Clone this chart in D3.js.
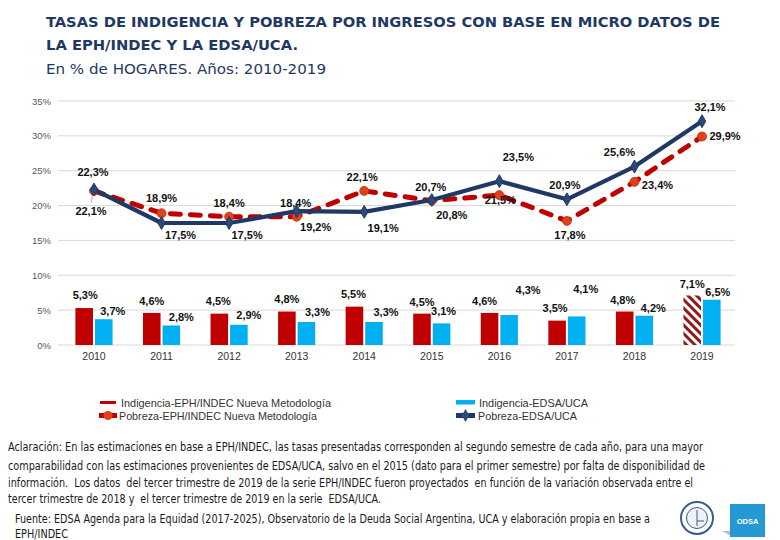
<!DOCTYPE html>
<html>
<head>
<meta charset="utf-8">
<script src="https://cdn.jsdelivr.net/npm/d3@7"></script>
<style>
  html, body { margin: 0; padding: 0; background: #fff; }
  svg { display: block; }
</style>
</head>
<body>
<svg id="chart" width="780" height="540"></svg>
<script>
// ---------------- DATA ----------------
const years = ["2010","2011","2012","2013","2014","2015","2016","2017","2018","2019"];
const indigenciaEPH  = [5.3, 4.6, 4.5, 4.8, 5.5, 4.5, 4.6, 3.5, 4.8, 7.1];
const indigenciaEDSA = [3.7, 2.8, 2.9, 3.3, 3.3, 3.1, 4.3, 4.1, 4.2, 6.5];
const pobrezaEPH     = [22.1, 18.9, 18.4, 18.4, 22.1, 20.7, 21.5, 17.8, 23.4, 29.9];
const pobrezaEDSA    = [22.3, 17.5, 17.5, 19.2, 19.1, 20.8, 23.5, 20.9, 25.6, 32.1];
const yTicks = [0, 5, 10, 15, 20, 25, 30, 35];
const seriesNames = [
  "Indigencia-EPH/INDEC Nueva Metodología",
  "Pobreza-EPH/INDEC Nueva Metodología",
  "Indigencia-EDSA/UCA",
  "Pobreza-EDSA/UCA"
];
const projectedYear = "2019";

// label offsets (layout only) [dx, dy] from the mark
const offPobEDSA = [[-1,-18],[19,12],[18,12],[19,16],[19,16],[20,15],[19,-24],[-2,-14],[-15,-15],[8,-14]];
const offPobEPH  = [[-3,20],[0,-15],[0,-14],[-1,-14],[-2,-14],[-1,-14],[1,5],[3,14],[23,3],[23,-1]];
const offIndEPH  = [[1,-13],[0,-12],[-1,-13],[0,-13],[-1,-13],[0,-12],[-5,-12],[-2,-13],[-2,-12],[0,-12]];
const offIndEDSA = [[9,-8],[10,-8],[10,-10],[11,-10],[12,-10],[2,-12],[19,-25],[9,-27],[9,-8],[6,-8]];

const fmt = v => d3.format(".1f")(v).replace(".", ",") + "%";

// ---------------- COLORS ----------------
const cRed = "#C00000", cBlue = "#00B0F0", cNavy = "#203864", cRedMarker = "#E0401C";
const titleColor = "#1F3864";

const svg = d3.select("#chart");
svg.append("rect").attr("width",780).attr("height",540).attr("fill","#fff");

// hatch pattern
const defs = svg.append("defs");
const pat = defs.append("pattern").attr("id","hatch").attr("patternUnits","userSpaceOnUse")
  .attr("width",6).attr("height",6).attr("patternTransform","rotate(-45)");
pat.append("rect").attr("width",6).attr("height",6).attr("fill","#fff");
pat.append("rect").attr("width",3).attr("height",6).attr("fill","#8E1B1E");

// ---------------- TITLE ----------------
svg.append("text").attr("x",46).attr("y",27)
  .attr("font-family","'DejaVu Sans Condensed','DejaVu Sans',sans-serif").attr("font-weight","bold")
  .attr("font-size",14.5).attr("fill",titleColor)
  .attr("textLength",674).attr("lengthAdjust","spacingAndGlyphs")
  .text("TASAS DE INDIGENCIA Y POBREZA POR INGRESOS CON BASE EN MICRO DATOS DE");
svg.append("text").attr("x",46).attr("y",50)
  .attr("font-family","'DejaVu Sans Condensed','DejaVu Sans',sans-serif").attr("font-weight","bold")
  .attr("font-size",14.5).attr("fill",titleColor)
  .attr("textLength",252).attr("lengthAdjust","spacingAndGlyphs")
  .text("LA EPH/INDEC Y LA EDSA/UCA.");
svg.append("text").attr("x",46).attr("y",74)
  .attr("font-family","'DejaVu Sans Condensed','DejaVu Sans',sans-serif")
  .attr("font-size",14.5).attr("fill",titleColor)
  .attr("textLength",280).attr("lengthAdjust","spacingAndGlyphs")
  .text("En % de HOGARES. Años: 2010-2019");

// ---------------- SCALES ----------------
const x = d3.scaleBand().domain(years).range([60.2, 735.8]);
const y = d3.scaleLinear().domain([0, 35]).range([345, 101]);
const cx = yr => x(yr) + x.bandwidth() / 2;
const barW = x.bandwidth() * 0.26;

// grid
svg.append("g").selectAll("line").data(yTicks).join("line")
  .attr("x1",58).attr("x2",735).attr("y1",d=>y(d)).attr("y2",d=>y(d))
  .attr("stroke","#D9D9D9").attr("stroke-width",1);

// y axis
const yAx = svg.append("g").attr("transform","translate(58,0)")
  .call(d3.axisLeft(y).tickValues(yTicks).tickFormat(d => d + "%").tickSize(0).tickPadding(7));
yAx.select(".domain").remove();
yAx.selectAll("text").attr("font-family","'Liberation Sans',Arial,sans-serif").attr("font-size",9.5).attr("fill","#595959");

// x axis
const xAx = svg.append("g").attr("transform","translate(0,345)")
  .call(d3.axisBottom(x).tickSize(0).tickPadding(8));
xAx.select(".domain").remove();
xAx.selectAll("text").attr("font-family","'Liberation Sans',Arial,sans-serif").attr("font-size",10.5).attr("fill","#333");

// ---------------- BARS ----------------
const bars = svg.append("g");
bars.selectAll("rect.eph").data(years).join("rect").attr("class","eph")
  .attr("x", d => cx(d) - barW - 1).attr("width", barW)
  .attr("y", (d,i) => y(indigenciaEPH[i])).attr("height", (d,i) => y(0) - y(indigenciaEPH[i]))
  .attr("fill", d => d === projectedYear ? "url(#hatch)" : cRed);
bars.selectAll("rect.edsa").data(years).join("rect").attr("class","edsa")
  .attr("x", d => cx(d) + 1).attr("width", barW)
  .attr("y", (d,i) => y(indigenciaEDSA[i])).attr("height", (d,i) => y(0) - y(indigenciaEDSA[i]))
  .attr("fill", cBlue);

const labelFont = "'Liberation Sans',Arial,sans-serif";
function addLabels(vals, offs, centerFn) {
  svg.append("g").selectAll("text").data(years).join("text")
    .attr("x", (d,i) => centerFn(d) + offs[i][0])
    .attr("y", (d,i) => y(vals[i]) + offs[i][1])
    .attr("text-anchor","middle").attr("dominant-baseline","central")
    .attr("font-family",labelFont).attr("font-weight","bold").attr("font-size",11).attr("fill","#111")
    .text((d,i) => fmt(vals[i]));
}

// ---------------- LINES ----------------
const line = d3.line().x(d => cx(d[0])).y(d => y(d[1]));
const ptsEPH = years.map((d,i) => [d, pobrezaEPH[i]]);
const ptsEDSA = years.map((d,i) => [d, pobrezaEDSA[i]]);

// leader line 2010
svg.append("line").attr("x1",cx(years[0])-3).attr("y1",y(pobrezaEPH[0])+12)
  .attr("x2",cx(years[0])-1).attr("y2",y(pobrezaEPH[0])+2).attr("stroke","#999").attr("stroke-width",0.8);

svg.append("path").datum(ptsEPH).attr("d", line).attr("fill","none")
  .attr("stroke",cRed).attr("stroke-width",5).attr("stroke-dasharray","10,10").attr("stroke-linecap","round");
svg.append("g").selectAll("circle").data(ptsEPH).join("circle")
  .attr("cx", d => cx(d[0])).attr("cy", d => y(d[1])).attr("r",4.5)
  .attr("fill",cRedMarker).attr("stroke","#C33010").attr("stroke-width",0.8);

svg.append("path").datum(ptsEDSA).attr("d", line).attr("fill","none")
  .attr("stroke",cNavy).attr("stroke-width",4.2).attr("stroke-linejoin","round");
svg.append("g").selectAll("path").data(ptsEDSA).join("path")
  .attr("transform", d => `translate(${cx(d[0])},${y(d[1])})`)
  .attr("d", d3.symbol().type(d3.symbolDiamond).size(48))
  .attr("fill","#2A4A7C").attr("stroke",cNavy).attr("stroke-width",1);

addLabels(indigenciaEPH, offIndEPH, d => cx(d) - barW/2 - 1);
addLabels(indigenciaEDSA, offIndEDSA, d => cx(d) + barW/2 + 1);
addLabels(pobrezaEPH, offPobEPH, cx);
addLabels(pobrezaEDSA, offPobEDSA, cx);

// ---------------- LEGEND ----------------
const lg = svg.append("g");
const legFont = "'Liberation Sans Narrow','Liberation Sans',Arial,sans-serif";
lg.append("rect").attr("x",100).attr("y",401).attr("width",16).attr("height",3).attr("fill",cRed);
lg.append("text").attr("x",121).attr("y",407).text(seriesNames[0]).attr("textLength",210);
lg.append("rect").attr("x",99).attr("y",413).attr("width",18).attr("height",5).attr("fill",cRed);
lg.append("circle").attr("cx",108).attr("cy",415.5).attr("r",4.5).attr("fill",cRedMarker);
lg.append("text").attr("x",119).attr("y",420).text(seriesNames[1]).attr("textLength",198);
lg.append("rect").attr("x",456).attr("y",400).attr("width",19).attr("height",4.5).attr("fill",cBlue);
lg.append("text").attr("x",479).attr("y",407).text(seriesNames[2]).attr("textLength",109);
lg.append("rect").attr("x",456).attr("y",413).attr("width",19).attr("height",5).attr("fill",cNavy);
lg.append("path").attr("transform","translate(465.5,415.5)").attr("d", d3.symbol().type(d3.symbolDiamond).size(50)).attr("fill","#2A4A7C");
lg.append("text").attr("x",478).attr("y",420).text(seriesNames[3]).attr("textLength",99);
lg.selectAll("text").attr("font-family",legFont).attr("font-size",11.5).attr("fill","#333").attr("lengthAdjust","spacingAndGlyphs");

// ---------------- FOOTNOTES ----------------
const noteFont = "'Liberation Sans Narrow','DejaVu Sans Condensed',sans-serif";
const notes = [
  ["Aclaración: En las estimaciones en base a EPH/INDEC, las tasas presentadas corresponden al segundo semestre de cada año, para una mayor", 8, 451, 695],
  ["comparabilidad con las estimaciones provenientes de EDSA/UCA, salvo en el 2015 (dato para el primer semestre) por falta de disponibilidad de", 8, 470, 697],
  ["información.  Los datos  del tercer trimestre de 2019 de la serie EPH/INDEC fueron proyectados  en función de la variación observada entre el", 8, 487, 685],
  ["tercer trimestre de 2018 y  el tercer trimestre de 2019 en la serie  EDSA/UCA.", 8, 503, 373],
  ["Fuente: EDSA Agenda para la Equidad (2017-2025), Observatorio de la Deuda Social Argentina, UCA y elaboración propia en base a", 15, 523, 635],
  ["EPH/INDEC", 15, 538, 53]
];
svg.append("g").selectAll("text").data(notes).join("text")
  .attr("x", d => d[1]).attr("y", d => d[2]).attr("textLength", d => d[3]).attr("lengthAdjust","spacingAndGlyphs")
  .attr("font-family",noteFont).attr("font-size",11.5).attr("fill","#1a1a1a").attr("xml:space","preserve")
  .text(d => d[0]);

// ---------------- LOGOS ----------------
const logo = svg.append("g");
logo.append("circle").attr("cx",697).attr("cy",518).attr("r",16).attr("fill","#fff").attr("stroke","#3B5B8C").attr("stroke-width",2);
logo.append("circle").attr("cx",697).attr("cy",518).attr("r",10.5).attr("fill","#EEF2F8").attr("stroke","#3B5B8C").attr("stroke-width",1);
logo.append("line").attr("x1",697).attr("x2",697).attr("y1",510).attr("y2",526).attr("stroke","#3B5B8C").attr("stroke-width",1);
logo.append("line").attr("x1",697).attr("x2",704).attr("y1",521).attr("y2",521).attr("stroke","#3B5B8C").attr("stroke-width",1);
logo.append("path").attr("d","M722,531 L731,536 L731,531 Z").attr("fill","#BBBBBB");
logo.append("rect").attr("x",730).attr("y",504).attr("width",35).attr("height",33).attr("fill","#2499D3");
logo.append("text").attr("x",747.5).attr("y",524).attr("text-anchor","middle")
  .attr("font-family","'Liberation Sans',Arial,sans-serif").attr("font-weight","bold").attr("font-size",7.5).attr("fill","#fff").text("ODSA");
</script>
</body>
</html>
